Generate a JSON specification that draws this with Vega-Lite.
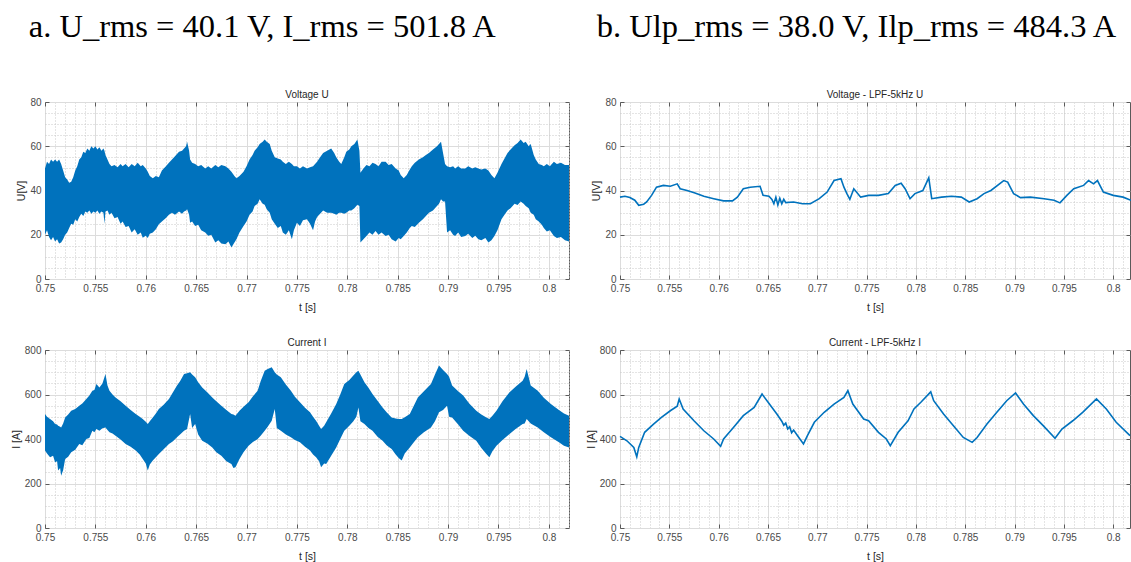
{
  "$schema": "https://vega.github.io/schema/vega-lite/v6.json",
  "background": "white",
  "padding": {"left": 10, "top": 10, "right": 0, "bottom": 0},
  "config": {
    "font": "Liberation Sans",
    "view": {"stroke": "#5a5a5a", "strokeWidth": 1},
    "axis": {
      "labelFont": "Liberation Sans", "labelFontSize": 10, "labelColor": "#4a4a4a",
      "titleFont": "Liberation Sans", "titleFontSize": 10.5, "titleFontWeight": "normal", "titleColor": "#262626",
      "domain": false, "grid": true, "labelOverlap": false, "labelFlush": false,
      "tickColor": "#5a5a5a", "tickSize": -4, "tickWidth": 1
    },
    "axisX": {"labelPadding": 8, "titlePadding": 9},
    "axisY": {"labelPadding": 8, "titlePadding": 3},
    "title": {"font": "Liberation Sans", "fontSize": 10, "fontWeight": "normal", "color": "#262626", "offset": -3},
    "line": {"color": "#0072BD", "strokeWidth": 1.6, "clip": true},
    "area": {"color": "#0072BD", "clip": true}
  },
  "datasets": {
    "u_raw": [
      {"t":0.75,"hi":50,"lo":20},{"t":0.7502,"hi":53,"lo":22},{"t":0.7504,"hi":52,"lo":19},{"t":0.7506,"hi":54,"lo":17.5},{"t":0.7508,"hi":53,"lo":19},{"t":0.751,"hi":54,"lo":17},{"t":0.7512,"hi":53,"lo":18},{"t":0.7514,"hi":54,"lo":16},{"t":0.7516,"hi":52,"lo":16.5},{"t":0.7518,"hi":49,"lo":18},{"t":0.752,"hi":46,"lo":20},{"t":0.7522,"hi":45,"lo":21},{"t":0.7524,"hi":43.5,"lo":23},{"t":0.7526,"hi":44,"lo":25},{"t":0.7528,"hi":46,"lo":24.5},{"t":0.753,"hi":49,"lo":27},{"t":0.7532,"hi":51,"lo":26},{"t":0.7534,"hi":54,"lo":28},{"t":0.7536,"hi":55,"lo":29.5},{"t":0.7538,"hi":57.5,"lo":28.5},{"t":0.754,"hi":57,"lo":30.5},{"t":0.7542,"hi":59,"lo":30},{"t":0.7544,"hi":58,"lo":31},{"t":0.7546,"hi":60,"lo":29.5},{"t":0.7548,"hi":59,"lo":30.5},{"t":0.755,"hi":60,"lo":30},{"t":0.7552,"hi":58.5,"lo":31},{"t":0.7554,"hi":59.5,"lo":29.5},{"t":0.7556,"hi":58,"lo":30.5},{"t":0.7558,"hi":59,"lo":30},{"t":0.7559,"hi":58,"lo":25},{"t":0.756,"hi":56,"lo":30.5},{"t":0.7562,"hi":54,"lo":31},{"t":0.7564,"hi":52,"lo":29},{"t":0.7566,"hi":51,"lo":30},{"t":0.7569,"hi":51.5,"lo":27.5},{"t":0.7572,"hi":50.5,"lo":28},{"t":0.7575,"hi":52,"lo":25},{"t":0.7577,"hi":51,"lo":26},{"t":0.758,"hi":52,"lo":23.5},{"t":0.7583,"hi":50.5,"lo":24},{"t":0.7586,"hi":52,"lo":21},{"t":0.7589,"hi":51,"lo":22.5},{"t":0.7592,"hi":52.5,"lo":20},{"t":0.7595,"hi":51,"lo":21},{"t":0.7597,"hi":51.5,"lo":18.7},{"t":0.76,"hi":50,"lo":19.5},{"t":0.7602,"hi":48.5,"lo":18.5},{"t":0.7604,"hi":46.5,"lo":20.5},{"t":0.7607,"hi":45.5,"lo":21},{"t":0.761,"hi":46.5,"lo":22.5},{"t":0.7613,"hi":46,"lo":24.7},{"t":0.7616,"hi":49,"lo":26},{"t":0.762,"hi":51,"lo":27.6},{"t":0.7623,"hi":52.5,"lo":29},{"t":0.7626,"hi":54,"lo":30},{"t":0.7629,"hi":55.5,"lo":29},{"t":0.7633,"hi":57.5,"lo":30.5},{"t":0.7636,"hi":58,"lo":29.5},{"t":0.7638,"hi":59,"lo":30.5},{"t":0.764,"hi":60,"lo":31},{"t":0.7641,"hi":62,"lo":31.5},{"t":0.7643,"hi":58,"lo":29},{"t":0.7644,"hi":54,"lo":25.4},{"t":0.7646,"hi":52.5,"lo":26},{"t":0.7649,"hi":52,"lo":24},{"t":0.7652,"hi":51,"lo":24.5},{"t":0.7655,"hi":51.5,"lo":22},{"t":0.7659,"hi":50,"lo":21},{"t":0.7662,"hi":51,"lo":19.5},{"t":0.7665,"hi":50,"lo":20},{"t":0.7669,"hi":51.5,"lo":16.5},{"t":0.7672,"hi":50.5,"lo":17.5},{"t":0.7675,"hi":51.5,"lo":16},{"t":0.7679,"hi":51,"lo":15.7},{"t":0.7682,"hi":50,"lo":17},{"t":0.7685,"hi":48.5,"lo":14.2},{"t":0.7688,"hi":46.5,"lo":16.5},{"t":0.769,"hi":45.5,"lo":18},{"t":0.7693,"hi":46.5,"lo":21},{"t":0.7697,"hi":48.5,"lo":24},{"t":0.77,"hi":51,"lo":26},{"t":0.7703,"hi":54,"lo":29},{"t":0.7706,"hi":56,"lo":30.5},{"t":0.7708,"hi":58,"lo":33},{"t":0.7711,"hi":59.5,"lo":34},{"t":0.7713,"hi":61,"lo":36},{"t":0.7716,"hi":62,"lo":34},{"t":0.7718,"hi":63,"lo":33.6},{"t":0.772,"hi":62,"lo":31.5},{"t":0.7723,"hi":61,"lo":30},{"t":0.7725,"hi":58,"lo":27},{"t":0.7728,"hi":55,"lo":25},{"t":0.7731,"hi":54.5,"lo":23},{"t":0.7734,"hi":54,"lo":24},{"t":0.7736,"hi":53,"lo":21},{"t":0.7739,"hi":52,"lo":20},{"t":0.7742,"hi":53,"lo":22},{"t":0.7745,"hi":52,"lo":18},{"t":0.7747,"hi":51,"lo":22},{"t":0.775,"hi":51,"lo":25.4},{"t":0.7753,"hi":50,"lo":24},{"t":0.7756,"hi":51,"lo":26.5},{"t":0.776,"hi":50,"lo":27},{"t":0.7763,"hi":50.5,"lo":25},{"t":0.7766,"hi":51,"lo":22},{"t":0.7768,"hi":52,"lo":26},{"t":0.777,"hi":53,"lo":28},{"t":0.7773,"hi":55,"lo":29.5},{"t":0.7776,"hi":57,"lo":31},{"t":0.778,"hi":58,"lo":30},{"t":0.7784,"hi":59,"lo":30},{"t":0.7787,"hi":57,"lo":29.5},{"t":0.7789,"hi":55,"lo":29},{"t":0.7792,"hi":53,"lo":30},{"t":0.7794,"hi":52,"lo":30},{"t":0.7797,"hi":55,"lo":29.5},{"t":0.7799,"hi":57.5,"lo":30},{"t":0.7802,"hi":58.5,"lo":31},{"t":0.7804,"hi":60,"lo":31},{"t":0.7807,"hi":61,"lo":32},{"t":0.781,"hi":63,"lo":33.6},{"t":0.7812,"hi":58,"lo":33},{"t":0.7813,"hi":48,"lo":16.5},{"t":0.7816,"hi":50,"lo":18},{"t":0.7819,"hi":51.5,"lo":19.4},{"t":0.7822,"hi":51,"lo":21},{"t":0.7825,"hi":52.5,"lo":20},{"t":0.7828,"hi":52,"lo":21.7},{"t":0.7831,"hi":51,"lo":20},{"t":0.7834,"hi":53,"lo":21},{"t":0.7838,"hi":53,"lo":19.4},{"t":0.7841,"hi":51.5,"lo":20},{"t":0.7844,"hi":52,"lo":18},{"t":0.7848,"hi":50,"lo":17},{"t":0.7851,"hi":49,"lo":18.5},{"t":0.7853,"hi":47,"lo":18},{"t":0.7856,"hi":45.5,"lo":19.4},{"t":0.7859,"hi":47,"lo":21},{"t":0.7862,"hi":49.5,"lo":23},{"t":0.7864,"hi":51,"lo":24},{"t":0.7867,"hi":52.5,"lo":23.5},{"t":0.7871,"hi":54,"lo":25.4},{"t":0.7875,"hi":55,"lo":27},{"t":0.7878,"hi":56,"lo":28.5},{"t":0.7881,"hi":57,"lo":30},{"t":0.7885,"hi":58.5,"lo":31},{"t":0.7889,"hi":60,"lo":33},{"t":0.7891,"hi":61,"lo":34},{"t":0.7893,"hi":62,"lo":36},{"t":0.7895,"hi":57,"lo":35},{"t":0.7897,"hi":52,"lo":35},{"t":0.7899,"hi":51,"lo":21},{"t":0.7902,"hi":50.5,"lo":22},{"t":0.7905,"hi":51,"lo":20},{"t":0.7907,"hi":50,"lo":19.4},{"t":0.791,"hi":51,"lo":21},{"t":0.7913,"hi":50,"lo":19},{"t":0.7917,"hi":50,"lo":19.4},{"t":0.792,"hi":51,"lo":20.5},{"t":0.7924,"hi":50,"lo":18.5},{"t":0.7927,"hi":50.5,"lo":19.5},{"t":0.793,"hi":50,"lo":18},{"t":0.7933,"hi":49.5,"lo":17.5},{"t":0.7937,"hi":50,"lo":18.5},{"t":0.794,"hi":49,"lo":16.5},{"t":0.7943,"hi":47,"lo":17.5},{"t":0.7946,"hi":45.5,"lo":19.4},{"t":0.7949,"hi":48,"lo":22},{"t":0.7953,"hi":52,"lo":27},{"t":0.7956,"hi":54.5,"lo":29},{"t":0.7959,"hi":57,"lo":31},{"t":0.7962,"hi":58.5,"lo":32},{"t":0.7966,"hi":60.5,"lo":34},{"t":0.7969,"hi":61.5,"lo":33.5},{"t":0.7972,"hi":63,"lo":35},{"t":0.7975,"hi":61.5,"lo":34},{"t":0.7977,"hi":62,"lo":33},{"t":0.798,"hi":60,"lo":32},{"t":0.7982,"hi":61,"lo":30},{"t":0.7985,"hi":56,"lo":29},{"t":0.7987,"hi":54,"lo":27},{"t":0.799,"hi":52,"lo":26},{"t":0.7993,"hi":51.5,"lo":24.5},{"t":0.7995,"hi":51,"lo":23},{"t":0.7998,"hi":52,"lo":21.5},{"t":0.8001,"hi":51,"lo":22},{"t":0.8005,"hi":53,"lo":19.4},{"t":0.8008,"hi":52,"lo":18.5},{"t":0.8012,"hi":52.5,"lo":19},{"t":0.8016,"hi":51.5,"lo":17.5},{"t":0.802,"hi":51.5,"lo":17}
    ],
    "i_raw": [
      {"t":0.75,"hi":512,"lo":348},{"t":0.7502,"hi":500,"lo":335},{"t":0.7505,"hi":490,"lo":318},{"t":0.7508,"hi":480,"lo":325},{"t":0.751,"hi":467,"lo":295},{"t":0.7512,"hi":465,"lo":300},{"t":0.7513,"hi":460,"lo":258},{"t":0.7515,"hi":455,"lo":270},{"t":0.7516,"hi":452,"lo":235},{"t":0.7518,"hi":470,"lo":260},{"t":0.752,"hi":497,"lo":310},{"t":0.7523,"hi":510,"lo":320},{"t":0.7526,"hi":527,"lo":340},{"t":0.753,"hi":535,"lo":352},{"t":0.7534,"hi":550,"lo":378},{"t":0.7537,"hi":560,"lo":372},{"t":0.7541,"hi":580,"lo":400},{"t":0.7544,"hi":595,"lo":405},{"t":0.7547,"hi":617,"lo":437},{"t":0.7549,"hi":620,"lo":430},{"t":0.7551,"hi":647,"lo":445},{"t":0.7554,"hi":632,"lo":437},{"t":0.7557,"hi":650,"lo":448},{"t":0.756,"hi":692,"lo":452},{"t":0.7562,"hi":640,"lo":440},{"t":0.7564,"hi":617,"lo":430},{"t":0.7567,"hi":600,"lo":425},{"t":0.757,"hi":587,"lo":415},{"t":0.7575,"hi":570,"lo":398},{"t":0.758,"hi":550,"lo":378},{"t":0.7585,"hi":530,"lo":365},{"t":0.759,"hi":512,"lo":348},{"t":0.7594,"hi":500,"lo":330},{"t":0.7597,"hi":490,"lo":310},{"t":0.76,"hi":478,"lo":290},{"t":0.7602,"hi":467,"lo":258},{"t":0.7604,"hi":480,"lo":285},{"t":0.7607,"hi":497,"lo":303},{"t":0.761,"hi":515,"lo":318},{"t":0.7613,"hi":535,"lo":333},{"t":0.7618,"hi":555,"lo":355},{"t":0.7623,"hi":580,"lo":378},{"t":0.7627,"hi":610,"lo":390},{"t":0.7631,"hi":640,"lo":408},{"t":0.7634,"hi":660,"lo":420},{"t":0.7638,"hi":692,"lo":437},{"t":0.7641,"hi":695,"lo":445},{"t":0.7644,"hi":700,"lo":512},{"t":0.7646,"hi":690,"lo":450},{"t":0.7649,"hi":677,"lo":467},{"t":0.7652,"hi":655,"lo":420},{"t":0.7656,"hi":632,"lo":392},{"t":0.7661,"hi":610,"lo":380},{"t":0.7666,"hi":587,"lo":362},{"t":0.767,"hi":570,"lo":340},{"t":0.7675,"hi":550,"lo":325},{"t":0.768,"hi":530,"lo":300},{"t":0.7685,"hi":512,"lo":288},{"t":0.7687,"hi":510,"lo":270},{"t":0.7689,"hi":505,"lo":273},{"t":0.7693,"hi":527,"lo":310},{"t":0.7697,"hi":545,"lo":340},{"t":0.7702,"hi":565,"lo":370},{"t":0.7706,"hi":590,"lo":385},{"t":0.7711,"hi":617,"lo":400},{"t":0.7714,"hi":660,"lo":415},{"t":0.7718,"hi":707,"lo":437},{"t":0.7721,"hi":715,"lo":455},{"t":0.7725,"hi":722,"lo":482},{"t":0.7728,"hi":700,"lo":535},{"t":0.773,"hi":690,"lo":450},{"t":0.7734,"hi":677,"lo":437},{"t":0.7739,"hi":645,"lo":420},{"t":0.7744,"hi":617,"lo":408},{"t":0.7748,"hi":590,"lo":395},{"t":0.7753,"hi":565,"lo":385},{"t":0.7758,"hi":540,"lo":365},{"t":0.7763,"hi":520,"lo":348},{"t":0.7766,"hi":500,"lo":330},{"t":0.7769,"hi":482,"lo":318},{"t":0.7772,"hi":460,"lo":300},{"t":0.7774,"hi":445,"lo":273},{"t":0.7777,"hi":460,"lo":290},{"t":0.7779,"hi":475,"lo":288},{"t":0.7784,"hi":515,"lo":325},{"t":0.7789,"hi":557,"lo":362},{"t":0.7793,"hi":600,"lo":400},{"t":0.7797,"hi":647,"lo":437},{"t":0.7802,"hi":665,"lo":460},{"t":0.7806,"hi":685,"lo":480},{"t":0.7809,"hi":700,"lo":500},{"t":0.7811,"hi":707,"lo":542},{"t":0.7813,"hi":690,"lo":480},{"t":0.7817,"hi":655,"lo":467},{"t":0.7821,"hi":630,"lo":450},{"t":0.7825,"hi":602,"lo":437},{"t":0.783,"hi":572,"lo":410},{"t":0.7835,"hi":542,"lo":392},{"t":0.7839,"hi":520,"lo":372},{"t":0.7844,"hi":497,"lo":355},{"t":0.7848,"hi":492,"lo":330},{"t":0.7851,"hi":490,"lo":315},{"t":0.7854,"hi":490,"lo":303},{"t":0.7857,"hi":498,"lo":335},{"t":0.7862,"hi":512,"lo":362},{"t":0.7866,"hi":550,"lo":385},{"t":0.787,"hi":587,"lo":408},{"t":0.7876,"hi":615,"lo":430},{"t":0.7883,"hi":647,"lo":452},{"t":0.7887,"hi":690,"lo":480},{"t":0.7891,"hi":730,"lo":520},{"t":0.7895,"hi":710,"lo":530},{"t":0.7899,"hi":692,"lo":550},{"t":0.7901,"hi":680,"lo":500},{"t":0.7904,"hi":640,"lo":497},{"t":0.791,"hi":615,"lo":465},{"t":0.7915,"hi":595,"lo":437},{"t":0.7921,"hi":560,"lo":415},{"t":0.7928,"hi":527,"lo":392},{"t":0.7933,"hi":510,"lo":360},{"t":0.7938,"hi":497,"lo":333},{"t":0.7941,"hi":490,"lo":318},{"t":0.7944,"hi":505,"lo":345},{"t":0.7948,"hi":527,"lo":370},{"t":0.7954,"hi":570,"lo":395},{"t":0.7961,"hi":610,"lo":422},{"t":0.7967,"hi":635,"lo":445},{"t":0.7974,"hi":662,"lo":467},{"t":0.7976,"hi":680,"lo":470},{"t":0.7978,"hi":715,"lo":490},{"t":0.7982,"hi":640,"lo":470},{"t":0.7985,"hi":630,"lo":462},{"t":0.7989,"hi":617,"lo":452},{"t":0.7995,"hi":585,"lo":430},{"t":0.8002,"hi":557,"lo":408},{"t":0.801,"hi":530,"lo":385},{"t":0.8015,"hi":515,"lo":370},{"t":0.802,"hi":505,"lo":362}
    ],
    "u_lpf": [
      {"t":0.75,"v":37},{"t":0.7505,"v":37.4},{"t":0.751,"v":36.8},{"t":0.7515,"v":35.6},{"t":0.7519,"v":33.3},{"t":0.7524,"v":33.8},{"t":0.7527,"v":34.8},{"t":0.7532,"v":37.8},{"t":0.7537,"v":41.5},{"t":0.7544,"v":42.3},{"t":0.7551,"v":41.9},{"t":0.7558,"v":43},{"t":0.7561,"v":40.8},{"t":0.7568,"v":40},{"t":0.7576,"v":38.9},{"t":0.7585,"v":37.4},{"t":0.7595,"v":36.3},{"t":0.7605,"v":35.3},{"t":0.7614,"v":35.3},{"t":0.7619,"v":37},{"t":0.7625,"v":40.8},{"t":0.7632,"v":41.5},{"t":0.7642,"v":41.9},{"t":0.7645,"v":37.8},{"t":0.7651,"v":37.4},{"t":0.7654,"v":36},{"t":0.7656,"v":34},{"t":0.7658,"v":37},{"t":0.766,"v":33.5},{"t":0.7662,"v":36.5},{"t":0.7664,"v":34},{"t":0.7666,"v":36},{"t":0.7668,"v":34.5},{"t":0.7676,"v":34.8},{"t":0.7685,"v":34},{"t":0.7693,"v":34},{"t":0.7702,"v":36.3},{"t":0.771,"v":39.3},{"t":0.7717,"v":44.5},{"t":0.7724,"v":45.3},{"t":0.7727,"v":41.5},{"t":0.773,"v":38.6},{"t":0.7733,"v":36},{"t":0.7737,"v":40.8},{"t":0.7744,"v":37},{"t":0.7752,"v":37.8},{"t":0.7762,"v":37.8},{"t":0.7772,"v":38.6},{"t":0.7779,"v":42.3},{"t":0.7785,"v":43.3},{"t":0.7789,"v":40.8},{"t":0.7794,"v":36.3},{"t":0.7799,"v":38.6},{"t":0.7807,"v":40},{"t":0.7813,"v":45.7},{"t":0.7816,"v":36.3},{"t":0.7826,"v":37},{"t":0.7836,"v":37.4},{"t":0.7846,"v":37},{"t":0.7854,"v":34.8},{"t":0.7862,"v":36.3},{"t":0.7869,"v":38.6},{"t":0.7876,"v":40},{"t":0.7889,"v":44.5},{"t":0.7893,"v":43.8},{"t":0.7899,"v":38.6},{"t":0.7906,"v":36.8},{"t":0.7916,"v":37},{"t":0.793,"v":36.3},{"t":0.794,"v":35.6},{"t":0.7946,"v":34.4},{"t":0.7953,"v":37.8},{"t":0.796,"v":40.8},{"t":0.797,"v":42.3},{"t":0.7975,"v":44.5},{"t":0.798,"v":43},{"t":0.7984,"v":44.5},{"t":0.799,"v":39.3},{"t":0.8,"v":37.8},{"t":0.801,"v":37},{"t":0.8018,"v":35.6}
    ],
    "i_lpf": [
      {"t":0.75,"v":412},{"t":0.7507,"v":392},{"t":0.7514,"v":362},{"t":0.7517,"v":320},{"t":0.7519,"v":362},{"t":0.7525,"v":430},{"t":0.7534,"v":467},{"t":0.7542,"v":497},{"t":0.7551,"v":527},{"t":0.7558,"v":547},{"t":0.756,"v":580},{"t":0.7564,"v":535},{"t":0.7575,"v":482},{"t":0.7585,"v":437},{"t":0.7595,"v":400},{"t":0.7602,"v":367},{"t":0.7605,"v":400},{"t":0.7615,"v":452},{"t":0.7625,"v":505},{"t":0.7636,"v":542},{"t":0.7644,"v":602},{"t":0.7649,"v":572},{"t":0.7659,"v":512},{"t":0.7664,"v":480},{"t":0.7666,"v":462},{"t":0.7668,"v":472},{"t":0.767,"v":445},{"t":0.7672,"v":455},{"t":0.7674,"v":428},{"t":0.7676,"v":440},{"t":0.768,"v":415},{"t":0.7686,"v":378},{"t":0.769,"v":415},{"t":0.7697,"v":475},{"t":0.7707,"v":520},{"t":0.7717,"v":557},{"t":0.7727,"v":587},{"t":0.7731,"v":617},{"t":0.7736,"v":557},{"t":0.7747,"v":490},{"t":0.7752,"v":482},{"t":0.7762,"v":430},{"t":0.777,"v":400},{"t":0.7774,"v":370},{"t":0.7782,"v":430},{"t":0.7792,"v":482},{"t":0.7798,"v":535},{"t":0.7805,"v":565},{"t":0.7815,"v":612},{"t":0.7818,"v":572},{"t":0.7828,"v":512},{"t":0.7838,"v":460},{"t":0.7848,"v":407},{"t":0.7857,"v":385},{"t":0.7862,"v":407},{"t":0.7872,"v":467},{"t":0.7882,"v":520},{"t":0.7892,"v":572},{"t":0.7901,"v":607},{"t":0.7909,"v":557},{"t":0.7919,"v":505},{"t":0.7929,"v":460},{"t":0.7941,"v":403},{"t":0.7948,"v":445},{"t":0.7959,"v":482},{"t":0.7969,"v":520},{"t":0.7983,"v":580},{"t":0.7993,"v":535},{"t":0.8003,"v":475},{"t":0.8017,"v":415}
    ]
  },
  "spacing": 15,
  "hconcat": [
    {
      "title": {"text": "a. U_rms = 40.1 V, I_rms = 501.8 A", "font": "Liberation Serif", "fontSize": 32.5, "anchor": "start", "color": "black", "offset": 46.5, "dx": 18},
      "spacing": 24,
      "vconcat": [
        {
          "width": 524, "height": 177,
          "title": "Voltage U",
          "data": {"name": "u_raw"},
          "layer": [
            {
              "mark": {"type": "area"},
              "encoding": {
                "x": {"field": "t", "type": "quantitative", "scale": {"domain": [0.75, 0.802], "nice": false, "zero": false},
                  "axis": {"title": "t [s]", "values": [0.75,0.751,0.752,0.753,0.754,0.755,0.756,0.757,0.758,0.759,0.76,0.761,0.762,0.763,0.764,0.765,0.766,0.767,0.768,0.769,0.77,0.771,0.772,0.773,0.774,0.775,0.776,0.777,0.778,0.779,0.78,0.781,0.782,0.783,0.784,0.785,0.786,0.787,0.788,0.789,0.79,0.791,0.792,0.793,0.794,0.795,0.796,0.797,0.798,0.799,0.8,0.801,0.802],
                    "labelExpr": "abs(datum.value*200-round(datum.value*200))<1e-6 ? format(datum.value,'~g') : ''",
                    "gridColor": {"condition": {"test": "abs(datum.value*200-round(datum.value*200))<1e-6", "value": "#dcdcdc"}, "value": "#c8c8c8"},
                    "gridDash": {"condition": {"test": "abs(datum.value*200-round(datum.value*200))<1e-6", "value": []}, "value": [1, 2]},
                    "tickOpacity": {"condition": {"test": "abs(datum.value*200-round(datum.value*200))<1e-6", "value": 1}, "value": 0}}},
                "y": {"field": "hi", "type": "quantitative", "scale": {"domain": [0, 80], "nice": false},
                  "axis": {"title": "U[V]", "values": [0,5,10,15,20,25,30,35,40,45,50,55,60,65,70,75,80],
                    "labelExpr": "datum.value % 20 == 0 ? datum.label : ''",
                    "gridColor": {"condition": {"test": "datum.value % 20 == 0", "value": "#dcdcdc"}, "value": "#c8c8c8"},
                    "gridDash": {"condition": {"test": "datum.value % 20 == 0", "value": []}, "value": [1, 2]},
                    "tickOpacity": {"condition": {"test": "datum.value % 20 == 0", "value": 1}, "value": 0}}},
                "y2": {"field": "lo"}
              }
            },
            {
              "mark": {"type": "area", "opacity": 0},
              "encoding": {
                "x": {"field": "t", "type": "quantitative", "axis": {"orient": "top", "title": null, "labels": false, "grid": false, "values": [0.75,0.755,0.76,0.765,0.77,0.775,0.78,0.785,0.79,0.795,0.8]}},
                "y": {"field": "hi", "type": "quantitative", "axis": {"orient": "right", "title": null, "labels": false, "grid": false, "values": [0,20,40,60,80]}},
                "y2": {"field": "lo"}
              }
            }
          ],
          "resolve": {"axis": {"x": "independent", "y": "independent"}}
        },
        {
          "width": 524, "height": 178,
          "title": "Current I",
          "data": {"name": "i_raw"},
          "layer": [
            {
              "mark": {"type": "area"},
              "encoding": {
                "x": {"field": "t", "type": "quantitative", "scale": {"domain": [0.75, 0.802], "nice": false, "zero": false},
                  "axis": {"title": "t [s]", "values": [0.75,0.751,0.752,0.753,0.754,0.755,0.756,0.757,0.758,0.759,0.76,0.761,0.762,0.763,0.764,0.765,0.766,0.767,0.768,0.769,0.77,0.771,0.772,0.773,0.774,0.775,0.776,0.777,0.778,0.779,0.78,0.781,0.782,0.783,0.784,0.785,0.786,0.787,0.788,0.789,0.79,0.791,0.792,0.793,0.794,0.795,0.796,0.797,0.798,0.799,0.8,0.801,0.802],
                    "labelExpr": "abs(datum.value*200-round(datum.value*200))<1e-6 ? format(datum.value,'~g') : ''",
                    "gridColor": {"condition": {"test": "abs(datum.value*200-round(datum.value*200))<1e-6", "value": "#dcdcdc"}, "value": "#c8c8c8"},
                    "gridDash": {"condition": {"test": "abs(datum.value*200-round(datum.value*200))<1e-6", "value": []}, "value": [1, 2]},
                    "tickOpacity": {"condition": {"test": "abs(datum.value*200-round(datum.value*200))<1e-6", "value": 1}, "value": 0}}},
                "y": {"field": "hi", "type": "quantitative", "scale": {"domain": [0, 800], "nice": false},
                  "axis": {"title": "I [A]", "values": [0,50,100,150,200,250,300,350,400,450,500,550,600,650,700,750,800],
                    "labelExpr": "datum.value % 200 == 0 ? datum.label : ''",
                    "gridColor": {"condition": {"test": "datum.value % 200 == 0", "value": "#dcdcdc"}, "value": "#c8c8c8"},
                    "gridDash": {"condition": {"test": "datum.value % 200 == 0", "value": []}, "value": [1, 2]},
                    "tickOpacity": {"condition": {"test": "datum.value % 200 == 0", "value": 1}, "value": 0}}},
                "y2": {"field": "lo"}
              }
            },
            {
              "mark": {"type": "area", "opacity": 0},
              "encoding": {
                "x": {"field": "t", "type": "quantitative", "axis": {"orient": "top", "title": null, "labels": false, "grid": false, "values": [0.75,0.755,0.76,0.765,0.77,0.775,0.78,0.785,0.79,0.795,0.8]}},
                "y": {"field": "hi", "type": "quantitative", "axis": {"orient": "right", "title": null, "labels": false, "grid": false, "values": [0,200,400,600,800]}},
                "y2": {"field": "lo"}
              }
            }
          ],
          "resolve": {"axis": {"x": "independent", "y": "independent"}}
        }
      ]
    },
    {
      "title": {"text": "b. Ulp_rms = 38.0 V, Ilp_rms = 484.3 A", "font": "Liberation Serif", "fontSize": 32.5, "anchor": "start", "color": "black", "offset": 46.5, "dx": 11},
      "spacing": 24,
      "vconcat": [
        {
          "width": 510, "height": 177,
          "title": "Voltage - LPF-5kHz U",
          "data": {"name": "u_lpf"},
          "layer": [
            {
              "mark": {"type": "line"},
              "encoding": {
                "x": {"field": "t", "type": "quantitative", "scale": {"domain": [0.75, 0.8017], "nice": false, "zero": false},
                  "axis": {"title": "t [s]", "values": [0.75,0.751,0.752,0.753,0.754,0.755,0.756,0.757,0.758,0.759,0.76,0.761,0.762,0.763,0.764,0.765,0.766,0.767,0.768,0.769,0.77,0.771,0.772,0.773,0.774,0.775,0.776,0.777,0.778,0.779,0.78,0.781,0.782,0.783,0.784,0.785,0.786,0.787,0.788,0.789,0.79,0.791,0.792,0.793,0.794,0.795,0.796,0.797,0.798,0.799,0.8,0.801],
                    "labelExpr": "abs(datum.value*200-round(datum.value*200))<1e-6 ? format(datum.value,'~g') : ''",
                    "gridColor": {"condition": {"test": "abs(datum.value*200-round(datum.value*200))<1e-6", "value": "#dcdcdc"}, "value": "#c8c8c8"},
                    "gridDash": {"condition": {"test": "abs(datum.value*200-round(datum.value*200))<1e-6", "value": []}, "value": [1, 2]},
                    "tickOpacity": {"condition": {"test": "abs(datum.value*200-round(datum.value*200))<1e-6", "value": 1}, "value": 0}}},
                "y": {"field": "v", "type": "quantitative", "scale": {"domain": [0, 80], "nice": false},
                  "axis": {"title": "U[V]", "values": [0,5,10,15,20,25,30,35,40,45,50,55,60,65,70,75,80],
                    "labelExpr": "datum.value % 20 == 0 ? datum.label : ''",
                    "gridColor": {"condition": {"test": "datum.value % 20 == 0", "value": "#dcdcdc"}, "value": "#c8c8c8"},
                    "gridDash": {"condition": {"test": "datum.value % 20 == 0", "value": []}, "value": [1, 2]},
                    "tickOpacity": {"condition": {"test": "datum.value % 20 == 0", "value": 1}, "value": 0}}}
              }
            },
            {
              "mark": {"type": "line", "opacity": 0},
              "encoding": {
                "x": {"field": "t", "type": "quantitative", "axis": {"orient": "top", "title": null, "labels": false, "grid": false, "values": [0.75,0.755,0.76,0.765,0.77,0.775,0.78,0.785,0.79,0.795,0.8]}},
                "y": {"field": "v", "type": "quantitative", "axis": {"orient": "right", "title": null, "labels": false, "grid": false, "values": [0,20,40,60,80]}}
              }
            }
          ],
          "resolve": {"axis": {"x": "independent", "y": "independent"}}
        },
        {
          "width": 510, "height": 178,
          "title": "Current - LPF-5kHz I",
          "data": {"name": "i_lpf"},
          "layer": [
            {
              "mark": {"type": "line"},
              "encoding": {
                "x": {"field": "t", "type": "quantitative", "scale": {"domain": [0.75, 0.8017], "nice": false, "zero": false},
                  "axis": {"title": "t [s]", "values": [0.75,0.751,0.752,0.753,0.754,0.755,0.756,0.757,0.758,0.759,0.76,0.761,0.762,0.763,0.764,0.765,0.766,0.767,0.768,0.769,0.77,0.771,0.772,0.773,0.774,0.775,0.776,0.777,0.778,0.779,0.78,0.781,0.782,0.783,0.784,0.785,0.786,0.787,0.788,0.789,0.79,0.791,0.792,0.793,0.794,0.795,0.796,0.797,0.798,0.799,0.8,0.801],
                    "labelExpr": "abs(datum.value*200-round(datum.value*200))<1e-6 ? format(datum.value,'~g') : ''",
                    "gridColor": {"condition": {"test": "abs(datum.value*200-round(datum.value*200))<1e-6", "value": "#dcdcdc"}, "value": "#c8c8c8"},
                    "gridDash": {"condition": {"test": "abs(datum.value*200-round(datum.value*200))<1e-6", "value": []}, "value": [1, 2]},
                    "tickOpacity": {"condition": {"test": "abs(datum.value*200-round(datum.value*200))<1e-6", "value": 1}, "value": 0}}},
                "y": {"field": "v", "type": "quantitative", "scale": {"domain": [0, 800], "nice": false},
                  "axis": {"title": "I [A]", "values": [0,50,100,150,200,250,300,350,400,450,500,550,600,650,700,750,800],
                    "labelExpr": "datum.value % 200 == 0 ? datum.label : ''",
                    "gridColor": {"condition": {"test": "datum.value % 200 == 0", "value": "#dcdcdc"}, "value": "#c8c8c8"},
                    "gridDash": {"condition": {"test": "datum.value % 200 == 0", "value": []}, "value": [1, 2]},
                    "tickOpacity": {"condition": {"test": "datum.value % 200 == 0", "value": 1}, "value": 0}}}
              }
            },
            {
              "mark": {"type": "line", "opacity": 0},
              "encoding": {
                "x": {"field": "t", "type": "quantitative", "axis": {"orient": "top", "title": null, "labels": false, "grid": false, "values": [0.75,0.755,0.76,0.765,0.77,0.775,0.78,0.785,0.79,0.795,0.8]}},
                "y": {"field": "v", "type": "quantitative", "axis": {"orient": "right", "title": null, "labels": false, "grid": false, "values": [0,200,400,600,800]}}
              }
            }
          ],
          "resolve": {"axis": {"x": "independent", "y": "independent"}}
        }
      ]
    }
  ]
}
